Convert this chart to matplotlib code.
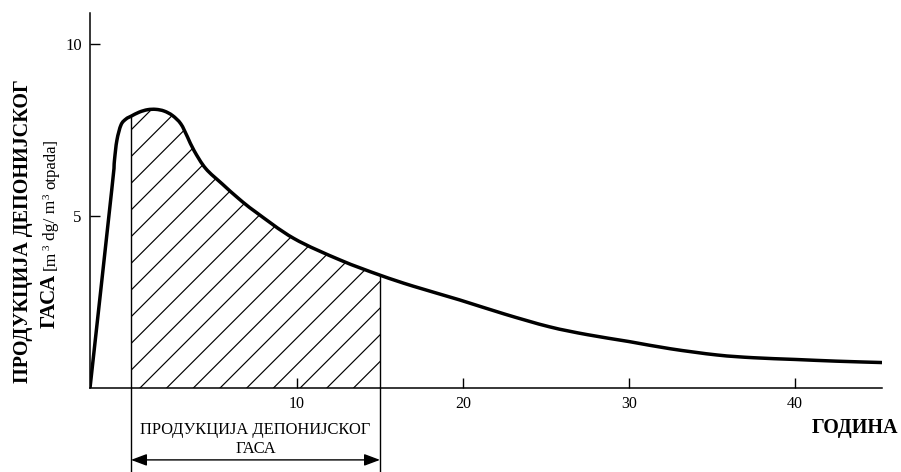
import numpy as np
import matplotlib
matplotlib.use("Agg")
from matplotlib import pyplot as plt
from matplotlib.path import Path
from matplotlib.patches import PathPatch

plt.rcParams['font.family'] = ['Liberation Serif', 'DejaVu Serif']

# curve (years, m3 gas / m3 waste)
years = [-2.47, -1.16, -1.0, -0.85, -0.6, -0.3, 0.0, 0.5, 1.0, 1.5, 2.0, 2.5,
         3.0, 3.4, 3.8, 4.5, 5.5, 6.5, 7.5, 9.8, 12.6, 15.0, 17.0, 19.8,
         22.5, 25.2, 27.5, 30.0, 32.5, 35.3, 37.5, 40.0, 42.5, 45.24]
gas = [0.0, 5.76, 6.6, 7.2, 7.65, 7.82, 7.9, 8.02, 8.09, 8.1, 8.05, 7.92,
       7.68, 7.3, 6.9, 6.38, 5.93, 5.5, 5.12, 4.35, 3.72, 3.28, 2.96, 2.56,
       2.15, 1.78, 1.55, 1.35, 1.14, 0.96, 0.88, 0.83, 0.78, 0.74]

x_ticks = [10, 20, 30, 40]
y_ticks = [5, 10]
prod_start, prod_end = 0, 15


def bezier_parts(xs, ys, i0, i1):
    # catmull-rom through the read points, as cubic bezier segments
    p = np.column_stack([xs, ys])
    verts, codes = [], []
    for i in range(i0, i1):
        pa = p[max(i - 1, 0)]
        pb = p[min(i + 2, len(p) - 1)]
        c1 = p[i] + (p[i + 1] - pa) / 6
        c2 = p[i + 1] - (pb - p[i]) / 6
        verts += [c1, c2, p[i + 1]]
        codes += [Path.CURVE4] * 3
    return verts, codes


W, H = 901, 472
fig = plt.figure(figsize=(W / 100, H / 100), dpi=100)
ax = fig.add_axes([90 / W, 84 / H, 792 / W, 375 / H])

xlim = (-2.47, 45.24)
ylim = (0, 375 / 34.4)
ax.set_xlim(*xlim)
ax.set_ylim(*ylim)

v, c = bezier_parts(years, gas, 0, len(years) - 1)
curve = Path([(years[0], gas[0])] + v, [Path.MOVETO] + c)
ax.add_patch(PathPatch(curve, facecolor='none', edgecolor='black', lw=2.5,
                       zorder=5))

# hatched area under the curve between 0 and 15 years
i0 = years.index(prod_start)
i1 = years.index(prod_end)
v, c = bezier_parts(years, gas, i0, i1)
area_path = Path([(prod_start, 0), (prod_start, gas[i0])] + v +
                 [(prod_end, 0), (prod_start, 0)],
                 [Path.MOVETO, Path.LINETO] + c + [Path.LINETO, Path.CLOSEPOLY])
area = PathPatch(area_path, facecolor='none', edgecolor='none')
ax.add_patch(area)

px_x = 792 / (xlim[1] - xlim[0])
px_y = 375 / (ylim[1] - ylim[0])
slope = px_x / px_y
step = 26.7 / px_x
for x0 in np.arange(0.54 - 12 * step, 16, step):
    xs = np.array([x0, x0 + 20])
    ln, = ax.plot(xs, slope * (xs - x0), color='black', lw=0.85)
    ln.set_clip_path(area)

# vertical bounds reaching below the axis
for xv, yv in ((prod_start, gas[i0]), (prod_end, gas[i1])):
    ax.plot([xv, xv], [yv, -2.6], color='black', lw=1.0, clip_on=False)

ax.annotate('', xy=(prod_start, -2.09), xytext=(prod_end, -2.09),
            annotation_clip=False,
            arrowprops=dict(arrowstyle='<|-|>,head_length=0.8,head_width=0.3',
                            mutation_scale=12, color='black', lw=1.0,
                            shrinkA=0, shrinkB=0))
ax.text((prod_start + prod_end) / 2, -1.89, 'ПРОДУКЦИЈА ДЕПОНИЈСКОГ\nГАСА',
        ha='center', va='baseline', fontsize=11.9, linespacing=1.22,
        clip_on=False)

for s in ['top', 'right']:
    ax.spines[s].set_visible(False)
for s in ['left', 'bottom']:
    ax.spines[s].set_linewidth(1.1)

ax.set_xticks(x_ticks)
ax.set_yticks(y_ticks)
ax.tick_params(direction='in', length=7, width=1.0, labelsize=11.5)
ax.tick_params(axis='x', pad=6)
ax.tick_params(axis='y', pad=6, labelsize=12)

fig.text(898 / W, (H - 433) / H, 'ГОДИНА', ha='right', va='baseline',
         fontsize=14.5, fontweight='bold')

# y label, two lines, rotated
fig.text(28 / W, (H - 231) / H, 'ПРОДУКЦИЈА ДЕПОНИЈСКОГ', rotation=90,
         rotation_mode='anchor', ha='center', va='baseline',
         fontsize=14.5, fontweight='bold')

pieces = [('ГАСА', 15, 'bold', 0, 0),
          ('[m', 12.5, 'normal', 0, 4),
          ('3', 8, 'normal', -6, 1),
          ('dg/ m', 12.5, 'normal', 0, 4),
          ('3', 8, 'normal', -6, 1),
          ('otpada]', 12, 'normal', 0, 4)]
ypos = H - 328
fig.canvas.draw()
for txt, fs, fw, dx, gap in pieces:
    ypos += gap
    t = fig.text((55 + dx) / W, ypos / H, txt, rotation=90,
                 rotation_mode='anchor', ha='left', va='baseline',
                 fontsize=fs, fontweight=fw)
    ypos = t.get_window_extent(renderer=fig.canvas.get_renderer()).y1

fig.savefig('out.png', dpi=100)
